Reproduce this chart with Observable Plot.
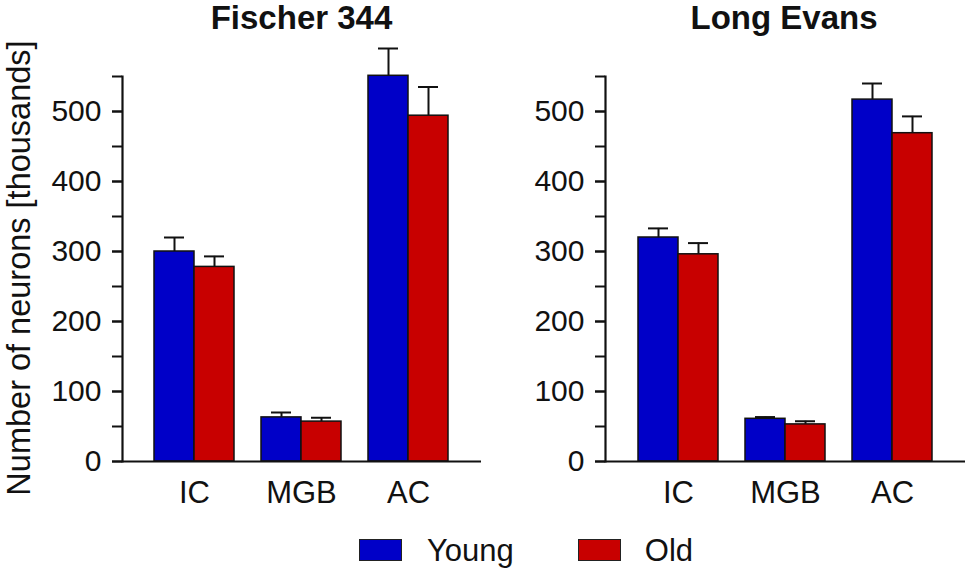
<!DOCTYPE html>
<html>
<head>
<meta charset="utf-8">
<script src="https://cdn.jsdelivr.net/npm/d3@7"></script>
<script src="https://cdn.jsdelivr.net/npm/@observablehq/plot@0.6"></script>
<style>
  html, body { margin: 0; padding: 0; background: #fff; }
  #wrap { position: relative; width: 970px; height: 573px; overflow: hidden; font-family: "Liberation Sans", Arial, sans-serif; color: #111; }
  .panel { position: absolute; top: 0; }
  .title { position: absolute; top: 1px; font-size: 33px; font-weight: bold; line-height: 33px; transform: translateX(-50%); white-space: nowrap; }
  .ylabel { position: absolute; left: 19px; top: 268px; font-size: 32.5px; line-height: 32.5px; white-space: nowrap; transform: translate(-50%, -50%) rotate(-90deg); }
  .legend { position: absolute; left: 359px; top: 528px; height: 44px; display: flex; align-items: center; font-size: 31px; line-height: 31px; }
  .sw { width: 43px; height: 22px; box-sizing: border-box; border: 1.5px solid #222; }
</style>
</head>
<body>
<div id="wrap">
  <div class="panel" id="left" style="left:0px"></div>
  <div class="panel" id="right" style="left:485px"></div>
  <div class="title" style="left:301.5px">Fischer 344</div>
  <div class="title" style="left:784px">Long Evans</div>
  <div class="ylabel">Number of neurons [thousands]</div>
  <div class="legend">
    <div class="sw" style="background:#0000c8;margin-right:25px"></div><span>Young</span>
    <div class="sw" style="background:#c80000;margin-left:64px;margin-right:24px"></div><span>Old</span>
  </div>
</div>
<script>
const regions = ["IC", "MGB", "AC"];
const groups = ["Young", "Old"];
const colors = ["#0000c8", "#c80000"];

// Fischer 344
const f344Young = [300, 63, 551];
const f344YoungErr = [20, 7, 39];
const f344Old = [278, 57, 494];
const f344OldErr = [15, 5.5, 41];

// Long Evans
const leYoung = [320, 61, 517];
const leYoungErr = [13, 2.5, 23];
const leOld = [296, 53, 469];
const leOldErr = [16, 4.5, 24];

const majorTicks = [0, 100, 200, 300, 400, 500];
const minorTicks = [0, 50, 100, 150, 200, 250, 300, 350, 400, 450, 500, 550];
const yDomain = [0, 550];

function panel(young, youngErr, old, oldErr, marginLeft, marginRight) {
  const data = regions.map((r, i) => ({
    region: r,
    young: young[i], youngTop: young[i] + youngErr[i],
    old: old[i], oldTop: old[i] + oldErr[i]
  }));
  return Plot.plot({
    width: 485,
    height: 520,
    marginTop: 76,
    marginBottom: 59,
    marginLeft,
    marginRight,
    style: {fontFamily: "'Liberation Sans', Arial, sans-serif", fontSize: "30px", color: "#111", background: "transparent", overflow: "visible"},
    x: {domain: regions, paddingInner: 0.25, paddingOuter: 0.3, label: null},
    y: {domain: yDomain, label: null},
    marks: [
      Plot.ruleX(data, {x: "region", y1: "young", y2: "youngTop", dx: -20, stroke: "#111", strokeWidth: 2}),
      Plot.tickY(data, {x: "region", y: "youngTop", insetLeft: 10, insetRight: 50, stroke: "#111", strokeWidth: 2}),
      Plot.ruleX(data, {x: "region", y1: "old", y2: "oldTop", dx: 20, stroke: "#111", strokeWidth: 2}),
      Plot.tickY(data, {x: "region", y: "oldTop", insetLeft: 50, insetRight: 10, stroke: "#111", strokeWidth: 2}),
      Plot.barY(data, {x: "region", y: "young", fill: colors[0], stroke: "#111", strokeWidth: 1.5, insetRight: 40}),
      Plot.barY(data, {x: "region", y: "old", fill: colors[1], stroke: "#111", strokeWidth: 1.5, insetLeft: 40}),
      Plot.axisY({ticks: minorTicks, tickSize: 10, tickFormat: () => "", strokeWidth: 2, label: null}),
      Plot.axisY({ticks: majorTicks, tickSize: 10, tickPadding: 11, strokeWidth: 2, label: null, fontSize: 30}),
      Plot.axisX({tickSize: 0, tickPadding: 19, label: null, fontSize: 31}),
      Plot.frame({anchor: "left", stroke: "#111", strokeWidth: 2.2}),
      Plot.ruleY([0], {stroke: "#111", strokeWidth: 2.2})
    ]
  });
}

document.getElementById("left").append(panel(f344Young, f344YoungErr, f344Old, f344OldErr, 122, 4));
document.getElementById("right").append(panel(leYoung, leYoungErr, leOld, leOldErr, 120, 5));
</script>
</body>
</html>
